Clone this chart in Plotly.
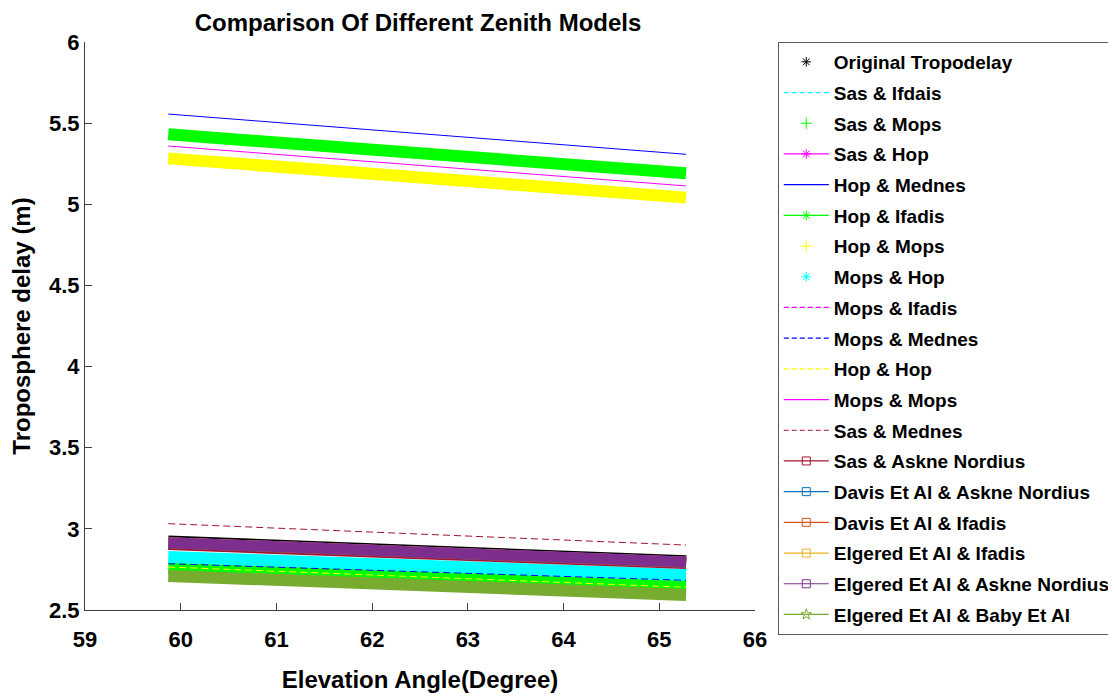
import plotly.graph_objects as go

# ---------------- data ----------------
elev = [59.87, 65.28]  # elevation angle (degree), start / end of every series

series_names = [
    "Original Tropodelay", "Sas & Ifdais", "Sas & Mops", "Sas & Hop",
    "Hop & Mednes", "Hop & Ifadis", "Hop & Mops", "Mops & Hop",
    "Mops & Ifadis", "Mops & Mednes", "Hop & Hop", "Mops & Mops",
    "Sas & Mednes", "Sas & Askne Nordius", "Davis Et Al & Askne Nordius",
    "Davis Et Al & Ifadis", "Elgered Et Al & Ifadis",
    "Elgered Et Al & Askne Nordius", "Elgered Et Al & Baby Et Al",
]

original_tropodelay = [2.922, 2.800]
sas_ifdais = [2.830, 2.718]
sas_mops = [2.755, 2.648]
sas_hop = [2.915, 2.795]
hop_mednes = [5.556, 5.308]
hop_ifadis = [5.431, 5.191]
hop_mops = [5.283, 5.041]
mops_hop = [2.827, 2.716]
mops_ifadis = [2.910, 2.790]
mops_mednes = [2.785, 2.683]
hop_hop = [2.765, 2.640]
mops_mops = [5.359, 5.113]
sas_mednes = [3.032, 2.900]
sas_askne = [2.903, 2.787]
davis_askne = [2.915, 2.795]
davis_ifadis = [2.915, 2.795]
elgered_ifadis = [2.916, 2.796]
elgered_askne = [2.915, 2.796]
elgered_baby = [2.710, 2.593]

x_ticks = [59, 60, 61, 62, 63, 64, 65, 66]
y_ticks = [2.5, 3, 3.5, 4, 4.5, 5, 5.5, 6]

values = [
    original_tropodelay, sas_ifdais, sas_mops, sas_hop, hop_mednes, hop_ifadis,
    hop_mops, mops_hop, mops_ifadis, mops_mednes, hop_hop, mops_mops,
    sas_mednes, sas_askne, davis_askne, davis_ifadis, elgered_ifadis,
    elgered_askne, elgered_baby,
]

# ---------------- styles ----------------
# (color, dashed?, legend mode, legend symbol, band width in plot)
styles = [
    ("#000000", False, "markers", "asterisk-open", 12),
    ("#00FFFF", True, "lines", None, 1),
    ("#00FF00", False, "markers", "cross-thin-open", 12),
    ("#FF00FF", False, "lines+markers", "asterisk-open", 11),
    ("#0000FF", False, "lines", None, 1),
    ("#00FF00", False, "lines+markers", "asterisk-open", 12),
    ("#FFFF00", False, "markers", "cross-thin-open", 12),
    ("#00FFFF", False, "markers", "asterisk-open", 12),
    ("#FF00FF", True, "lines", None, 1),
    ("#0000FF", True, "lines", None, 1),
    ("#FFFF00", True, "lines", None, 1),
    ("#FF00FF", False, "lines", None, 1),
    ("#A2142F", True, "lines", None, 1),
    ("#A2142F", False, "lines+markers", "square-open", 11),
    ("#0072BD", False, "lines+markers", "square-open", 11),
    ("#D95319", False, "lines+markers", "square-open", 11),
    ("#EDB120", False, "lines+markers", "square-open", 10),
    ("#7E2F8E", False, "lines+markers", "square-open", 11),
    ("#77AC30", False, "lines+markers", "star-open", 12),
]

FONT = "Liberation Sans, Arial, sans-serif"
PLOT_DASH = "7px,4px"
LEGEND_DASH = "5px,3px"

# the page body adds an 8px offset; figure is sized to fill the rest
FIG_W, FIG_H, OFF = 1108, 688, 8

fig = go.Figure()

# plotted series (dense marker bands drawn as wide strokes)
for name, vals, (color, dashed, mode, symbol, width) in zip(series_names, values, styles):
    fig.add_trace(go.Scatter(
        x=elev, y=vals, mode="lines", name=name, showlegend=False,
        line=dict(color=color, width=width,
                  dash=PLOT_DASH if dashed else "solid"),
        hoverinfo="x+y+name",
    ))

# legend entries
for name, (color, dashed, mode, symbol, width) in zip(series_names, styles):
    kw = dict(x=[None], y=[None], name=name, mode=mode, showlegend=True,
              legendgroup=name)
    if "lines" in mode:
        kw["line"] = dict(color=color, width=1.2,
                          dash=LEGEND_DASH if dashed else "solid")
    if "markers" in mode:
        kw["marker"] = dict(symbol=symbol, color=color, size=8,
                            line=dict(color=color, width=1))
    fig.add_trace(go.Scatter(**kw))

fig.update_layout(
    width=FIG_W, height=FIG_H,
    paper_bgcolor="white", plot_bgcolor="white",
    margin=dict(l=85 - OFF, r=361, t=42 - OFF, b=86, autoexpand=False),
    font=dict(family=FONT, color="#000000", weight="bold"),
    title=dict(text="Comparison Of Different Zenith Models",
               x=(418 - OFF) / FIG_W, xanchor="center",
               y=1 - (23 - OFF) / FIG_H, yanchor="middle",
               font=dict(size=24, family=FONT, weight="bold", color="#000000")),
    legend=dict(
        x=1.034, xanchor="left", y=1.0, yanchor="top",
        bordercolor="#5a5a5a", borderwidth=1, bgcolor="white",
        font=dict(size=19, family=FONT, weight="bold", color="#000000"),
        itemwidth=45, tracegroupgap=3, maxheight=640,
    ),
    showlegend=True,
)

fig.update_xaxes(
    range=[59, 66], tickvals=x_ticks, ticktext=[str(v) for v in x_ticks],
    ticks="inside", ticklen=7, tickcolor="#404040",
    showline=True, linecolor="#404040", linewidth=1, mirror=False,
    showgrid=False, zeroline=False, ticklabelstandoff=10,
    tickfont=dict(size=22, family=FONT, weight="bold"),
    title=dict(text="Elevation Angle(Degree)", standoff=19,
               font=dict(size=24, family=FONT, weight="bold")),
)
fig.update_yaxes(
    range=[2.5, 6], tickvals=y_ticks, ticktext=[f"{v:g}" for v in y_ticks],
    ticks="inside", ticklen=7, tickcolor="#404040",
    showline=True, linecolor="#404040", linewidth=1, mirror=False,
    showgrid=False, zeroline=False,
    tickfont=dict(size=22, family=FONT, weight="bold"),
    title=dict(text="Troposphere delay (m)", standoff=12,
               font=dict(size=24, family=FONT, weight="bold")),
)

fig.write_html("out.html")
